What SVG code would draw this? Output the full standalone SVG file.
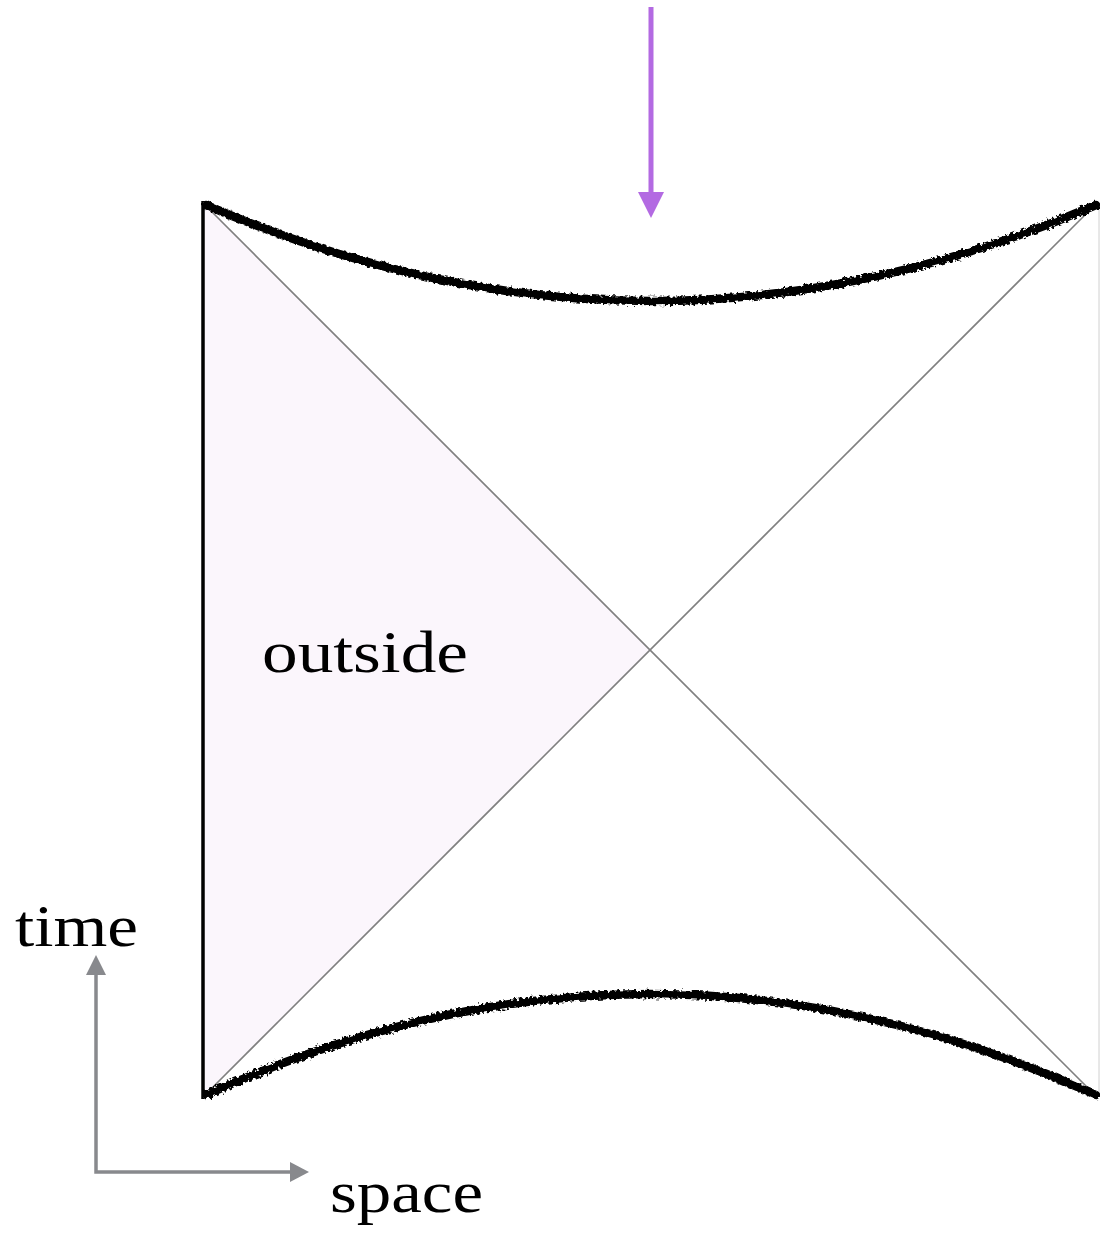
<svg xmlns="http://www.w3.org/2000/svg" width="1100" height="1233" viewBox="0 0 1100 1233">
<style>
.lbl{font-family:"Liberation Serif","DejaVu Serif",serif;font-size:60px;fill:#000}
.diag{stroke:#808080;stroke-width:1.6;fill:none}
.sing{stroke:#000;stroke-width:8.5;fill:none;stroke-linecap:round}
.axis{stroke:#88898d;stroke-width:3.5;fill:none}
</style>
<defs>
<filter id="rough" x="-5%" y="-50%" width="110%" height="200%">
<feTurbulence type="fractalNoise" baseFrequency="0.3" numOctaves="2" seed="3" result="n"/>
<feDisplacementMap in="SourceGraphic" in2="n" scale="6"/>
</filter>
</defs>
<g id="outside-region">
<polygon points="203,203 650,650 203,1097" fill="#fbf6fc"/>
</g>
<g id="boundaries">
<line x1="203" y1="201" x2="203" y2="1099" stroke="#000" stroke-width="3.5"/>
<line x1="1099" y1="203" x2="1099" y2="1097" stroke="#d0d0d0" stroke-width="1"/>
</g>
<g id="horizons">
<line class="diag" x1="203" y1="203" x2="1097" y2="1097"/>
<line class="diag" x1="203" y1="1097" x2="1097" y2="203"/>
</g>
<g id="singularities" filter="url(#rough)">
<path class="sing" d="M206,205 Q650,397 1096,205"/>
<path class="sing" d="M206,1095 Q650,893 1096,1095"/>
</g>
<g id="connectors">
<line x1="651" y1="7" x2="651" y2="194" stroke="#b36ae2" stroke-width="5"/>
<polygon points="638,192 664,192 651,218" fill="#b36ae2"/>
<polyline class="axis" points="96,975 96,1172 290,1172"/>
<polygon points="86,975 106,975 96,955" fill="#88898d"/>
<polygon points="290,1162 290,1182 309,1172" fill="#88898d"/>
</g>
<g id="labels">
<text class="lbl" x="262" y="672" textLength="206" lengthAdjust="spacingAndGlyphs">outside</text>
<text class="lbl" x="15" y="946" textLength="123" lengthAdjust="spacingAndGlyphs">time</text>
<text class="lbl" x="330" y="1212" textLength="153" lengthAdjust="spacingAndGlyphs">space</text>
</g>
</svg>
